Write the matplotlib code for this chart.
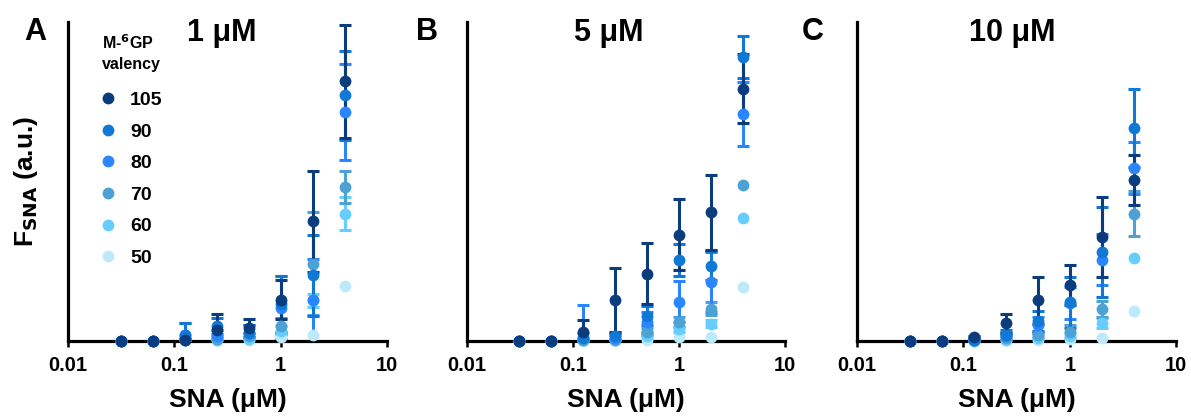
import matplotlib
matplotlib.use("Agg")
import matplotlib.pyplot as plt
import numpy as np

plt.rcParams['font.family'] = ['Liberation Sans', 'DejaVu Sans']
plt.rcParams['font.weight'] = 'bold'

# SNA concentrations (uM)
sna = [0.03125, 0.0625, 0.125, 0.25, 0.5, 1, 2, 4]

valency = ['105', '90', '80', '70', '60', '50']
colors = ['#0b3d7e', '#1079d6', '#2a86ff', '#4ca2d4', '#66cdff', '#bde9fc']

titles = ['1 μM', '5 μM', '10 μM']
letters = ['A', 'B', 'C']

# mean F_SNA (a.u.), one list per valency, per panel
a_mean = {
    '105': [0, 0, 0.3, 3.4, 4.2, 13.0, 37.5, 81.4],
    '90':  [0, 0, 2.0, 4.6, 2.4, 11.5, 20.6, 77.0],
    '80':  [0, 0, 2.0, 1.5, 2.4, 10.5, 12.8, 71.8],
    '70':  [0, 0, 0.5, 0.8, 1.5, 4.8, 24.3, 48.3],
    '60':  [0, 0, 0.3, 0.5, 0.8, 3.3, 12.8, 40.0],
    '50':  [0, 0, 0.2, 0.3, 0.5, 1.3, 1.8, 17.2],
}
a_err = {
    '105': [0, 0, 0.5, 5.0, 2.8, 6.0, 15.7, 17.8],
    '90':  [0, 0, 3.6, 2.5, 2.8, 8.8, 12.8, 14.0],
    '80':  [0, 0, 3.6, 2.0, 2.6, 9.8, 13.0, 15.0],
    '70':  [0, 0, 0.5, 0.6, 1.0, 2.5, 16.2, 5.0],
    '60':  [0, 0, 0.3, 0.5, 0.6, 1.5, 2.1, 5.3],
    '50':  [0, 0, 0, 0, 0, 0, 0, 0],
}
b_mean = {
    '105': [0, 0, 2.8, 13.0, 21.1, 33.4, 40.4, 79.1],
    '90':  [0, 0, 1.0, 1.5, 8.0, 25.3, 23.7, 89.0],
    '80':  [0, 0, 1.3, 1.0, 6.0, 12.4, 18.5, 71.3],
    '70':  [0, 0, 0.3, 0.5, 3.0, 5.9, 10.2, 48.8],
    '60':  [0, 0, 0.2, 0.3, 1.5, 3.7, 5.5, 38.5],
    '50':  [0, 0, 0.1, 0.2, 0.5, 1.2, 1.3, 16.9],
}
b_err = {
    '105': [0, 0, 3.9, 10.0, 9.5, 11.0, 11.7, 10.8],
    '90':  [0, 0, 1.5, 1.0, 3.0, 5.0, 4.7, 6.5],
    '80':  [0, 0, 10.0, 1.0, 3.0, 6.5, 9.4, 10.0],
    '70':  [0, 0, 0.3, 0.3, 1.0, 1.5, 2.0, 0],
    '60':  [0, 0, 0.2, 0.2, 0.5, 1.0, 1.0, 0],
    '50':  [0, 0, 0, 0, 0, 0, 0, 0],
}
c_mean = {
    '105': [0, 0, 1.2, 5.6, 12.8, 17.5, 32.6, 50.4],
    '90':  [0, 0, 0.5, 2.0, 6.3, 12.2, 27.9, 66.8],
    '80':  [0, 0, 0.3, 1.5, 5.0, 12.0, 25.5, 54.2],
    '70':  [0, 0, 0.2, 1.0, 2.0, 3.0, 10.2, 40.0],
    '60':  [0, 0, 0.1, 0.5, 1.0, 1.5, 5.7, 26.0],
    '50':  [0, 0, 0.1, 0.2, 0.5, 0.8, 1.0, 9.3],
}
c_err = {
    '105': [0, 0, 0.5, 3.0, 7.3, 6.3, 12.5, 7.8],
    '90':  [0, 0, 0.5, 1.5, 3.0, 8.0, 14.2, 12.3],
    '80':  [0, 0, 0.3, 1.0, 2.5, 5.0, 8.0, 8.1],
    '70':  [0, 0, 0.2, 0.5, 1.0, 2.0, 2.5, 6.9],
    '60':  [0, 0, 0.1, 0.3, 0.5, 1.0, 1.5, 0],
    '50':  [0, 0, 0, 0, 0, 0, 0, 0],
}
panels = [(a_mean, a_err), (b_mean, b_err), (c_mean, c_err)]

fig = plt.figure(figsize=(11.91, 4.17), dpi=100)
lefts = [0.057, 0.392, 0.7196]
widths = [0.268, 0.267, 0.268]
title_x = [222, 609, 1012]
letter_x = [35, 427, 813]
x = np.array(sna)

for i, (means, errs) in enumerate(panels):
    ax = fig.add_axes([lefts[i], 0.182, widths[i], 0.765])
    # error bars first (light series at the bottom, 105 on top)
    for k in range(len(valency) - 1, -1, -1):
        v = valency[k]
        m = np.array(means[v])
        e = np.array(errs[v])
        keep = e > 0
        if not keep.any():
            continue
        lo = np.minimum(e, m)
        ax.errorbar(x[keep], m[keep], yerr=[lo[keep], e[keep]], fmt='none',
                    ecolor=colors[k], elinewidth=2.2, capsize=4.3,
                    capthick=2.2, zorder=2)
    handles = []
    for k in range(len(valency) - 1, -1, -1):
        v = valency[k]
        h, = ax.plot(sna, means[v], 'o', color=colors[k], ms=8.5,
                     mec='none', clip_on=False, zorder=3, label=v)
        handles.append(h)
    handles = handles[::-1]

    ax.set_xscale('log')
    ax.set_xlim(0.01, 10)
    ax.set_ylim(0, 100)
    ax.set_xticks([0.01, 0.1, 1, 10])
    ax.set_xticklabels(['0.01', '0.1', '1', '10'])
    ax.xaxis.set_minor_locator(matplotlib.ticker.NullLocator())
    ax.set_yticks([])
    ax.tick_params(axis='x', direction='out', length=4, width=1.8,
                   labelsize=14.5, pad=7)
    for s in ['top', 'right']:
        ax.spines[s].set_visible(False)
    for s in ['left', 'bottom']:
        ax.spines[s].set_linewidth(2.3)
    ax.set_xlabel('SNA (μM)', fontsize=19, fontweight='bold', labelpad=9)
    if i == 0:
        ax.set_ylabel('F$_{\\mathbf{SNA}}$ (a.u.)', fontsize=19,
                      fontweight='bold', labelpad=20)
        leg = ax.legend(handles, valency, title='M-$^{\\mathbf{6}}$GP\nvalency',
                        loc='upper left', bbox_to_anchor=(0.07, 0.995),
                        frameon=False, borderpad=0, handlelength=0.8,
                        handletextpad=0.75, labelspacing=0.72,
                        prop={'size': 14, 'weight': 'bold'},
                        title_fontproperties={'size': 11.5, 'weight': 'bold'})
        leg.get_title().set_linespacing(1.4)
        leg._legend_box.sep = 14
    fig.text(title_x[i] / 1191, 1 - 33 / 417, titles[i], fontsize=22,
             fontweight='bold', ha='center', va='center')
    fig.text(letter_x[i] / 1191, 1 - 32 / 417, letters[i], fontsize=22,
             fontweight='bold', ha='center', va='center')

fig.savefig('out.png', dpi=100)
